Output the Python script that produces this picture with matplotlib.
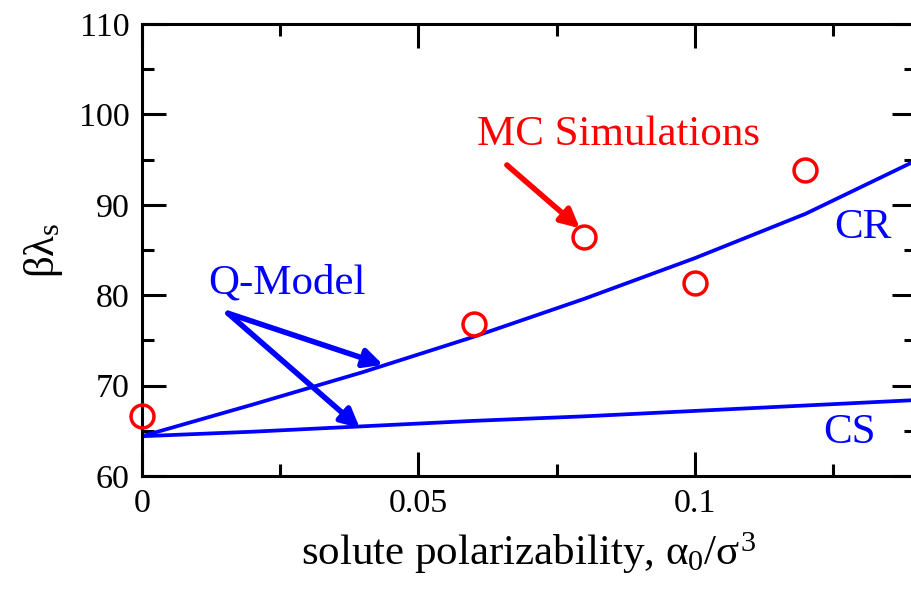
import numpy as np
import matplotlib
matplotlib.use('Agg')
import matplotlib.pyplot as plt
from matplotlib.ticker import MultipleLocator, FixedLocator, FixedFormatter

# MC simulation points
mc_x = [0.0, 0.06, 0.08, 0.10, 0.12]
mc_y = [66.6, 76.8, 86.4, 81.3, 93.8]

# Q-Model curves
q_x = [0.0, 0.02, 0.04, 0.06, 0.08, 0.10, 0.12, 0.14]
cr_y = [64.4, 67.9, 71.5, 75.4, 79.6, 84.1, 89.0, 94.9]
cs_y = [64.4, 64.9, 65.5, 66.1, 66.6, 67.2, 67.8, 68.4]

x_ticks = [0.0, 0.05, 0.1]
x_ticklabels = ['0', '0.05', '0.1']
y_ticks = [60, 70, 80, 90, 100, 110]

plt.rcParams['font.family'] = ['Liberation Serif', 'DejaVu Serif']
plt.rcParams['mathtext.fontset'] = 'custom'
plt.rcParams['mathtext.rm'] = 'Liberation Serif'
plt.rcParams['mathtext.it'] = 'Liberation Serif'
plt.rcParams['mathtext.bf'] = 'Liberation Serif'

fig = plt.figure(figsize=(9.11, 5.90), dpi=100)
# axes run a little past the right edge, like the original
ax = fig.add_axes([142/911, 114/590, 774/911, 452/590])

red = '#ff0000'
blue = '#0000ff'

ax.plot(q_x, cr_y, color=blue, lw=2.7)
ax.plot(q_x, cs_y, color=blue, lw=2.7)
ax.plot(mc_x, mc_y, 'o', ms=16.5, mfc='none', mec=red, mew=2.5, clip_on=False, zorder=5)

ax.set_xlim(0, 0.14)
ax.set_ylim(60, 110)

ax.xaxis.set_major_locator(FixedLocator(x_ticks))
ax.xaxis.set_major_formatter(FixedFormatter(x_ticklabels))
ax.xaxis.set_minor_locator(MultipleLocator(0.025))
ax.yaxis.set_major_locator(FixedLocator(y_ticks))
ax.yaxis.set_minor_locator(MultipleLocator(5))

ax.tick_params(which='both', direction='in', top=True, right=True, width=2.2, labelsize=24.5)
ax.tick_params(which='major', length=17, pad=9)
ax.tick_params(which='minor', length=8.6)
for s in ax.spines.values():
    s.set_linewidth(2.2)

ax.set_xlabel(r'solute polarizability, $\alpha_0/\sigma^3$', fontsize=31, labelpad=8)
ax.set_ylabel(r'$\beta\lambda_s$', fontsize=31, labelpad=10)

# annotations
ax.text(0.0861, 96.6, 'MC Simulations', color=red, fontsize=31, ha='center', va='baseline')
ax.text(0.0262, 80.2, 'Q-Model', color=blue, fontsize=31, ha='center', va='baseline')
ax.text(0.1304, 86.3, 'CR', color=blue, fontsize=31, ha='center', va='baseline')
ax.text(0.128, 63.65, 'CS', color=blue, fontsize=31, ha='center', va='baseline')

arrow_red = dict(arrowstyle='-|>', color=red, lw=4, mutation_scale=28, shrinkA=0, shrinkB=0)
arrow_blue = dict(arrowstyle='-|>', color=blue, lw=4, mutation_scale=28, shrinkA=0, shrinkB=0)
ax.annotate('', xy=(0.0792, 87.4), xytext=(0.066, 94.4), arrowprops=arrow_red)
ax.annotate('', xy=(0.0436, 72.3), xytext=(0.01555, 78.0), arrowprops=arrow_blue)
ax.annotate('', xy=(0.0394, 65.3), xytext=(0.01555, 78.0), arrowprops=arrow_blue)

fig.savefig('out.png', dpi=100)
